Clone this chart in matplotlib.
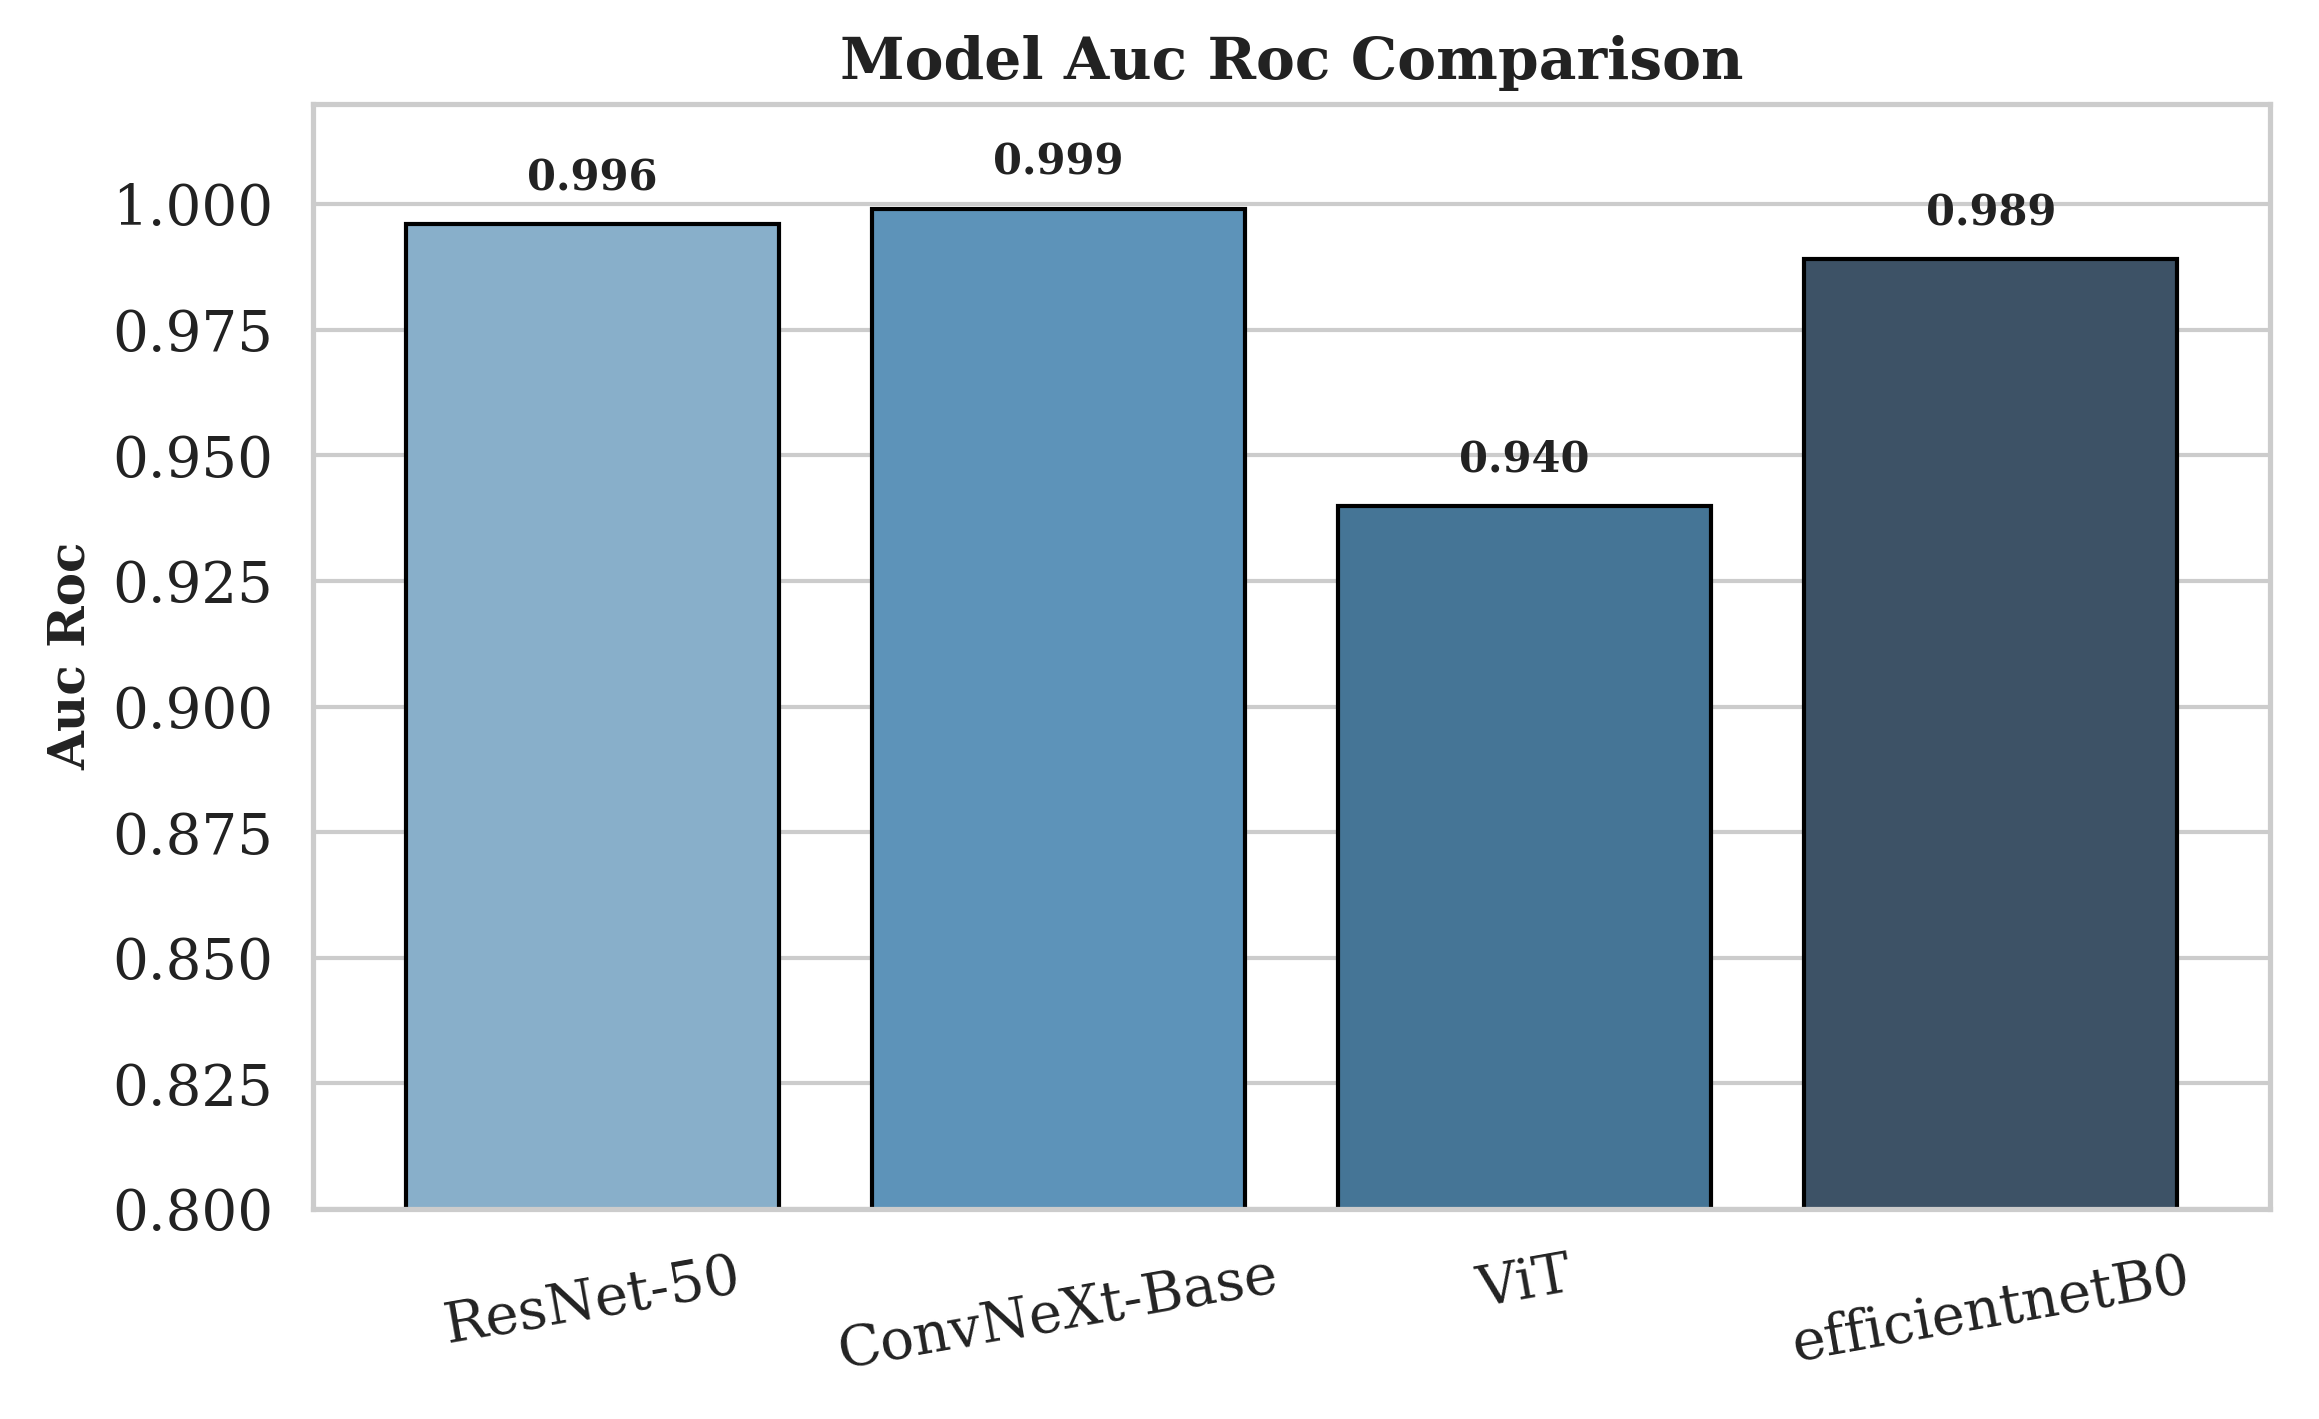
import matplotlib
matplotlib.use("Agg")
import matplotlib.pyplot as plt
import seaborn as sns

models = ["ResNet-50", "ConvNeXt-Base", "ViT", "efficientnetB0"]
auc_roc = [0.996, 0.999, 0.940, 0.989]
colors = ["#88afca", "#5d93b9", "#457596", "#3d5266"]

sns.set_theme(style="whitegrid")
plt.rcParams['font.family'] = ['DejaVu Serif']

fig = plt.figure(figsize=(2319/300, 1419/300), dpi=300)
ax = fig.add_axes([0.135, 0.148, 0.844, 0.779])
bars = ax.bar(models, auc_roc, color=colors, edgecolor="black", linewidth=1.0, width=0.8)
ax.set_ylim(0.8, 1.02)
ax.set_xlim(-0.6, 3.6)
for b, v in zip(bars, auc_roc):
    ax.text(b.get_x() + b.get_width()/2, v + 0.005, f"{v:.3f}", ha="center", va="bottom",
            fontsize=10, fontweight="bold", color="#222222")
ax.set_title("Model Auc Roc Comparison", fontsize=14, fontweight="bold", color="#222222")
ax.set_ylabel("Auc Roc", fontsize=12, fontweight="bold", color="#222222")
ax.tick_params(axis="y", labelsize=13.5, colors="#222222")
ax.tick_params(axis="x", labelsize=13.5, colors="#222222", rotation=10)
ax.xaxis.grid(False)
ax.set_axisbelow(True)
fig.savefig("out.png", dpi=300)
